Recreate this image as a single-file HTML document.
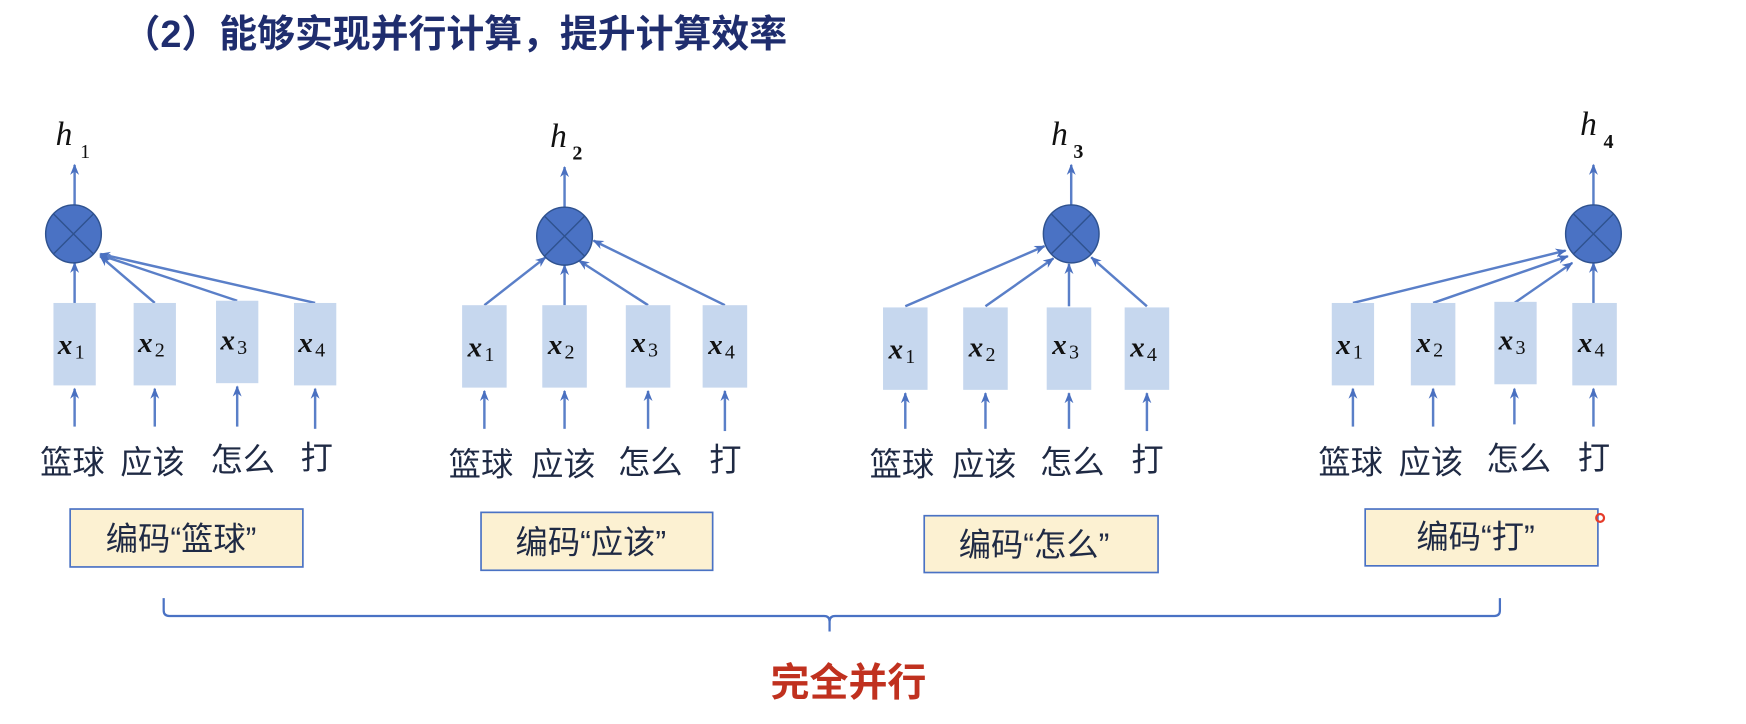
<!DOCTYPE html>
<html><head><meta charset="utf-8"><style>
html,body{margin:0;padding:0;background:#fff;}
svg{display:block;}
.t{font-family:"Liberation Sans","Noto Sans CJK SC",sans-serif;}
.w{font-family:"Liberation Sans","Noto Sans CJK SC",sans-serif;font-size:29px;fill:#1f2a44;}
.x{font-family:"Liberation Serif",serif;font-style:italic;font-weight:bold;font-size:26px;fill:#111;}
.s{font-family:"Liberation Serif",serif;font-size:18px;fill:#111;}
.h{font-family:"Liberation Serif",serif;font-style:italic;font-size:30px;fill:#111;}
</style></head><body>
<svg width="1746" height="724" viewBox="0 0 1568 650" preserveAspectRatio="none" xmlns="http://www.w3.org/2000/svg">
<defs><marker id="a" markerWidth="10" markerHeight="10" refX="9" refY="5" orient="auto" markerUnits="userSpaceOnUse"><path d="M0,1 L10,5 L0,9 L3,5 Z" fill="#4a70c0"/></marker></defs>
<rect width="1568" height="650" fill="#fff"/>
<text x="110" y="42" class="t" font-size="34" font-weight="bold" fill="#1f2d6e">（2）能够实现并行计算，提升计算效率</text>
<g stroke="#5a7fc8" stroke-width="2.2" fill="none" marker-end="url(#a)">
<line x1="67" y1="185" x2="67" y2="148"/>
<line x1="67" y1="272" x2="67" y2="236"/>
<line x1="139" y1="272" x2="90" y2="230"/>
<line x1="213" y1="270" x2="90" y2="229"/>
<line x1="283" y1="272" x2="90" y2="228"/>
<line x1="67" y1="383" x2="67" y2="349"/><line x1="139" y1="383" x2="139" y2="349"/><line x1="213" y1="383" x2="213" y2="347"/><line x1="283" y1="385" x2="283" y2="349"/>
<line x1="507" y1="187" x2="507" y2="150"/>
<line x1="435" y1="274" x2="490" y2="231"/>
<line x1="507" y1="274" x2="507" y2="238"/>
<line x1="582" y1="274" x2="520" y2="234"/>
<line x1="651" y1="274" x2="533" y2="216"/>
<line x1="435" y1="385" x2="435" y2="351"/><line x1="507" y1="385" x2="507" y2="351"/><line x1="582" y1="385" x2="582" y2="351"/><line x1="651" y1="387" x2="651" y2="351"/>
<line x1="962" y1="185" x2="962" y2="148"/>
<line x1="813" y1="275" x2="938" y2="221"/>
<line x1="885" y1="275" x2="946" y2="232"/>
<line x1="960" y1="275" x2="960" y2="237"/>
<line x1="1030" y1="275" x2="980" y2="231"/>
<line x1="813" y1="385" x2="813" y2="353"/><line x1="885" y1="385" x2="885" y2="353"/><line x1="960" y1="385" x2="960" y2="353"/><line x1="1030" y1="387" x2="1030" y2="353"/>
<line x1="1431" y1="185" x2="1431" y2="148"/>
<line x1="1215" y1="272" x2="1406" y2="225"/>
<line x1="1287" y1="272" x2="1408" y2="230"/>
<line x1="1360" y1="272" x2="1412" y2="236"/>
<line x1="1431" y1="272" x2="1431" y2="236"/>
<line x1="1215" y1="383" x2="1215" y2="349"/><line x1="1287" y1="383" x2="1287" y2="349"/><line x1="1360" y1="381" x2="1360" y2="349"/><line x1="1431" y1="383" x2="1431" y2="349"/>
</g>
<g fill="#4a72c4" stroke="#2f528f" stroke-width="1.3">
<ellipse cx="66" cy="210" rx="25" ry="26"/><ellipse cx="507" cy="212" rx="25" ry="26"/><ellipse cx="962" cy="210" rx="25" ry="26"/><ellipse cx="1431" cy="210" rx="25" ry="26"/>
</g>
<g stroke="#2f528f" stroke-width="1.3">
<path d="M48,192 L84,228 M84,192 L48,228"/><path d="M489,194 L525,230 M525,194 L489,230"/><path d="M944,192 L980,228 M980,192 L944,228"/><path d="M1413,192 L1449,228 M1449,192 L1413,228"/>
</g>
<g fill="#c6d7ee">
<rect x="48" y="272" width="38" height="74"/><rect x="120" y="272" width="38" height="74"/><rect x="194" y="270" width="38" height="74"/><rect x="264" y="272" width="38" height="74"/>
<rect x="415" y="274" width="40" height="74"/><rect x="487" y="274" width="40" height="74"/><rect x="562" y="274" width="40" height="74"/><rect x="631" y="274" width="40" height="74"/>
<rect x="793" y="276" width="40" height="74"/><rect x="865" y="276" width="40" height="74"/><rect x="940" y="276" width="40" height="74"/><rect x="1010" y="276" width="40" height="74"/>
<rect x="1196" y="272" width="38" height="74"/><rect x="1267" y="272" width="40" height="74"/><rect x="1342" y="271" width="38" height="74"/><rect x="1412" y="272" width="40" height="74"/>
</g>
<g>
<text x="52" y="318" class="x">x</text><text x="67" y="322" class="s">1</text>
<text x="124" y="316" class="x">x</text><text x="139" y="320" class="s">2</text>
<text x="198" y="314" class="x">x</text><text x="213" y="318" class="s">3</text>
<text x="268" y="316" class="x">x</text><text x="283" y="320" class="s">4</text>
<text x="420" y="320" class="x">x</text><text x="435" y="324" class="s">1</text>
<text x="492" y="318" class="x">x</text><text x="507" y="322" class="s">2</text>
<text x="567" y="316" class="x">x</text><text x="582" y="320" class="s">3</text>
<text x="636" y="318" class="x">x</text><text x="651" y="322" class="s">4</text>
<text x="798" y="322" class="x">x</text><text x="813" y="326" class="s">1</text>
<text x="870" y="320" class="x">x</text><text x="885" y="324" class="s">2</text>
<text x="945" y="318" class="x">x</text><text x="960" y="322" class="s">3</text>
<text x="1015" y="320" class="x">x</text><text x="1030" y="324" class="s">4</text>
<text x="1200" y="318" class="x">x</text><text x="1215" y="322" class="s">1</text>
<text x="1272" y="316" class="x">x</text><text x="1287" y="320" class="s">2</text>
<text x="1346" y="314" class="x">x</text><text x="1361" y="318" class="s">3</text>
<text x="1417" y="316" class="x">x</text><text x="1432" y="320" class="s">4</text>
</g>
<text x="50" y="130" class="h">h</text><text x="72" y="142" class="s">1</text>
<text x="494" y="132" class="h">h</text><text x="514" y="143" class="s" font-weight="bold">2</text>
<text x="944" y="130" class="h">h</text><text x="964" y="142" class="s" font-weight="bold">3</text>
<text x="1419" y="121" class="h">h</text><text x="1440" y="133" class="s" font-weight="bold">4</text>
<g class="w">
<text x="36" y="425">篮球</text><text x="108" y="425">应该</text><text x="189" y="423">怎么</text><text x="270" y="421">打</text>
<text x="403" y="427">篮球</text><text x="477" y="427">应该</text><text x="555" y="425">怎么</text><text x="637" y="423">打</text>
<text x="781" y="427">篮球</text><text x="855" y="427">应该</text><text x="934" y="425">怎么</text><text x="1016" y="423">打</text>
<text x="1184" y="425">篮球</text><text x="1256" y="425">应该</text><text x="1335" y="422">怎么</text><text x="1417" y="421">打</text>
</g>
<g fill="#fcf1d2" stroke="#4a72c4" stroke-width="1.5">
<rect x="63" y="457" width="209" height="52"/><rect x="432" y="460" width="208" height="52"/><rect x="830" y="463" width="210" height="51"/><rect x="1226" y="457" width="209" height="51"/>
</g>
<g class="w">
<text x="95" y="494" font-size="29">编码“篮球”</text>
<text x="463" y="497" font-size="29">编码“应该”</text>
<text x="861" y="499" font-size="29">编码“怎么”</text>
<text x="1272" y="492" font-size="29">编码“打”</text>
</g>
<circle cx="1437" cy="465" r="3.5" fill="none" stroke="#e53b2a" stroke-width="2"/>
<path d="M147,537 L147,548 Q147,553 152,553 L740,553 Q745,553 745,558 L745,567 M745,558 Q745,553 750,553 L1342,553 Q1347,553 1347,548 L1347,537" fill="none" stroke="#4a72c4" stroke-width="2"/>
<text x="692" y="625" class="t" font-size="35" font-weight="bold" fill="#c0311f">完全并行</text>
</svg>
</body></html>
